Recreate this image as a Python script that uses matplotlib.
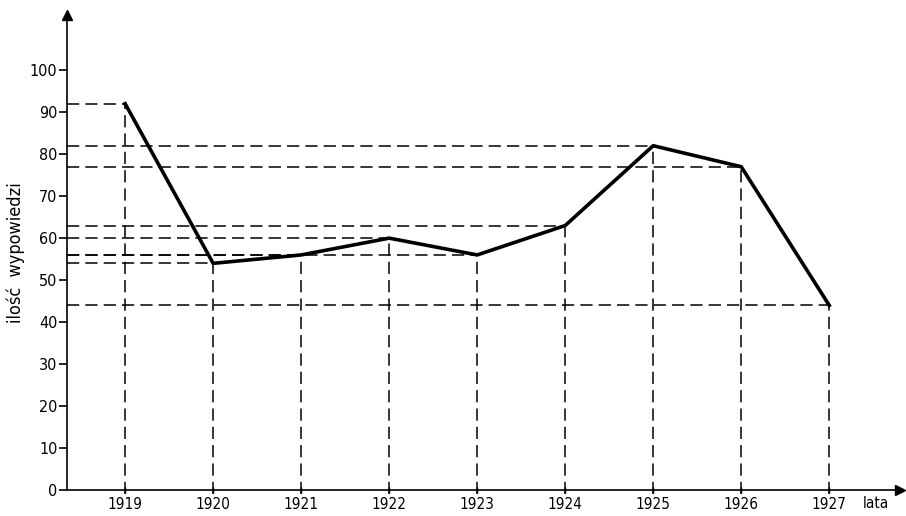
import matplotlib
matplotlib.use("Agg")
import matplotlib.pyplot as plt

# dane
lata = [1919, 1920, 1921, 1922, 1923, 1924, 1925, 1926, 1927]
wypowiedzi = [92, 54, 56, 60, 56, 63, 82, 77, 44]
y_ticks = [0, 10, 20, 30, 40, 50, 60, 70, 80, 90, 100]

plt.rcParams["font.family"] = ["DejaVu Sans"]
plt.rcParams["font.stretch"] = "condensed"

fig = plt.figure(figsize=(9.06, 5.16), dpi=100)
ax = fig.add_axes([0.074, 0.05, 0.919, 0.92])

x0, x1 = 1918.34, 1927.8
y0, y1 = 0, 113
ax.set_xlim(x0, x1)
ax.set_ylim(y0, y1)

# linie pomocnicze (przerywane)
for x, y in zip(lata, wypowiedzi):
    ax.plot([x0, x], [y, y], color="black", lw=1.1, ls=(0, (8, 4)))
    ax.plot([x, x], [-1, y], color="black", lw=1.1, ls=(0, (8, 4)), clip_on=False)

ax.plot(lata, wypowiedzi, color="black", lw=2.6, solid_joinstyle="miter")

# osie ze strzałkami
for s in ["top", "right"]:
    ax.spines[s].set_visible(False)
ax.spines["left"].set_linewidth(1.2)
ax.spines["bottom"].set_linewidth(1.2)
ax.plot(x0, 1, "^k", ms=7, transform=ax.get_xaxis_transform(), clip_on=False)
ax.plot(1, 0, ">k", ms=7, transform=ax.get_yaxis_transform(), clip_on=False)

ax.set_xticks(lata)
ax.set_xticklabels([str(r) for r in lata], fontsize=11)
ax.set_yticks(y_ticks)
ax.set_yticklabels([str(v) for v in y_ticks], fontsize=11.5)
ax.tick_params(axis="y", length=6, width=1.2, pad=1)
ax.tick_params(axis="x", length=4, width=1.0, pad=3, direction="inout")

ax.set_ylabel("ilość  wypowiedzi", fontsize=13)
ax.yaxis.set_label_coords(-0.05, 0.5)
ax.text(1927.38, -1.4, "lata", fontsize=11, va="top", ha="left")

fig.savefig("out.png", dpi=100)
